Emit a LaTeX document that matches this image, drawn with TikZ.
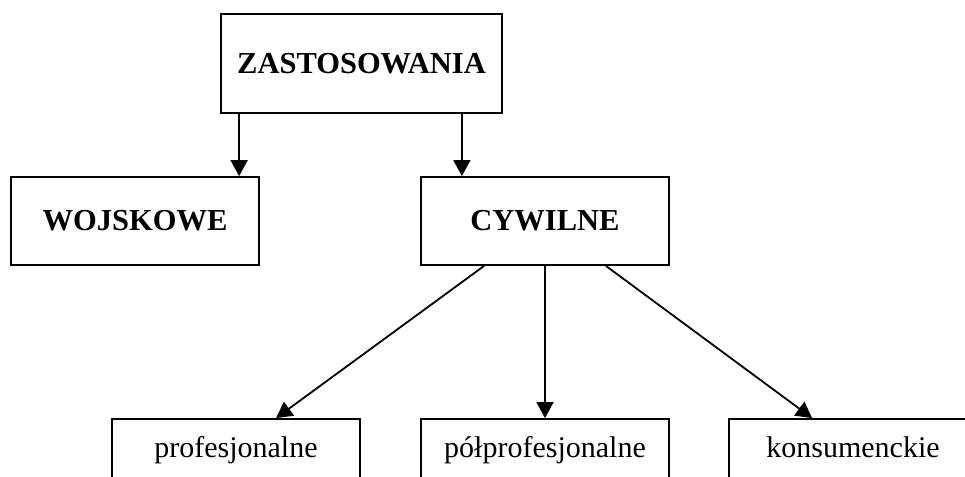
\documentclass[tikz,border=0pt]{standalone}
\usepackage{fontspec}
\setmainfont{Liberation Serif}
\usetikzlibrary{arrows.meta}
\begin{document}
\begin{tikzpicture}[x=1pt,y=-1pt,
  box/.style={draw,line width=1.8pt,rectangle,inner sep=0pt,minimum width=248pt,minimum height=88pt,font=\fontsize{30.5}{36}\selectfont\bfseries},
  lowbox/.style={draw,line width=1.8pt,rectangle,inner sep=0pt,minimum width=248pt,minimum height=62pt,text height=21pt,text depth=7pt,font=\fontsize{30}{36}\selectfont},
  arr/.style={line width=1.8pt,-{Triangle[length=16pt,width=17pt]}}]
\clip (0,0) rectangle (965,476);
\useasboundingbox (0,0) rectangle (965,476);
\node[box,minimum width=281pt,minimum height=99pt] (zast) at (361.5,63.5) {ZASTOSOWANIA};
\node[box] (woj) at (135,221) {WOJSKOWE};
\node[box] (cyw) at (545,221) {CYWILNE};
\node[lowbox] (prof) at (236,450) {profesjonalne};
\node[lowbox] (polp) at (545,450) {półprofesjonalne};
\node[lowbox] (kons) at (853,450) {konsumenckie};
\draw[arr] ([xshift=19pt]zast.south west) -- ([xshift=19pt]zast.south west |- woj.north);
\draw[arr] ([xshift=-41pt]zast.south east) -- ([xshift=-41pt]zast.south east |- cyw.north);
\draw[arr] ([xshift=64pt]cyw.south west) -- ([xshift=165pt]prof.north west);
\draw[arr] (cyw.south) -- (polp.north);
\draw[arr] ([xshift=-64pt]cyw.south east) -- ([xshift=84pt]kons.north west);
\end{tikzpicture}
\end{document}
